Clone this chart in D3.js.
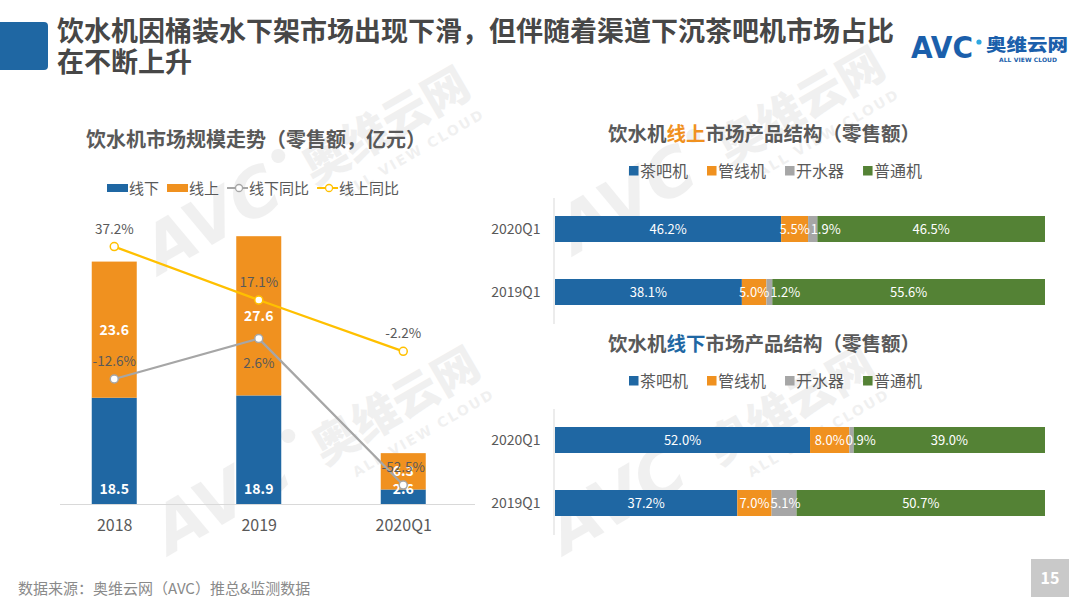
<!DOCTYPE html>
<html><head><meta charset="utf-8">
<script src="https://cdn.jsdelivr.net/npm/d3@7"></script>
<style>
html,body{margin:0;padding:0;background:#fff;}
svg{display:block;font-family:"Noto Sans CJK SC","Microsoft YaHei",sans-serif;}
</style></head><body>
<svg id="c" width="1080" height="608"></svg>
<script>
// ---------- data ----------
const years = ["2018", "2019", "2020Q1"];
const offlineSales = [18.5, 18.9, 2.6];
const onlineSales = [23.6, 27.6, 6.3];
const offlineYoY = [-12.6, 2.6, -52.5];
const onlineYoY = [37.2, 17.1, -2.2];
const salesLegend = ["线下", "线上", "线下同比", "线上同比"];

const productTypes = ["茶吧机", "管线机", "开水器", "普通机"];
const periods = ["2020Q1", "2019Q1"];
const onlineShare2020Q1 = [46.2, 5.5, 1.9, 46.5];
const onlineShare2019Q1 = [38.1, 5.0, 1.2, 55.6];
const offlineShare2020Q1 = [52.0, 8.0, 0.9, 39.0];
const offlineShare2019Q1 = [37.2, 7.0, 5.1, 50.7];

// ---------- styles ----------
const C = {blue: "#1f67a3", orange: "#f0911f", gray: "#a6a6a6", green: "#548235",
           yellow: "#ffc000", text: "#595959", title: "#474747", axis: "#d9d9d9"};
const typeColors = [C.blue, C.orange, C.gray, C.green];
const pct = v => v.toFixed(1) + "%";

const svg = d3.select("#c");

// ---------- watermarks ----------
function watermark(x, y) {
  const g = svg.append("g").attr("transform", `translate(${x},${y}) rotate(-30)`)
    .attr("fill", "#000").attr("opacity", 0.055);
  g.append("text").text("AVC").attr("font-size", 66).attr("font-weight", 900)
    .attr("font-style", "italic").attr("font-family", "DejaVu Sans");
  g.append("circle").attr("cx", 162).attr("cy", -44).attr("r", 7);
  g.append("text").text("奥维云网").attr("x", 178).attr("font-size", 46).attr("font-weight", 900);
  g.append("text").text("ALL VIEW CLOUD").attr("x", 200).attr("y", 26).attr("font-size", 14)
    .attr("font-weight", 700).attr("letter-spacing", 2).attr("font-family", "DejaVu Sans");
}
watermark(160, 275);
watermark(170, 555);
watermark(575, 255);
watermark(565, 555);

// ---------- header ----------
svg.append("rect").attr("x", -8).attr("y", 22).attr("width", 56).attr("height", 48)
  .attr("rx", 4).attr("fill", "#1f67a3");
svg.append("text").attr("x", 57).attr("y", 41).attr("font-size", 27).attr("font-weight", 700)
  .attr("fill", C.title).text("饮水机因桶装水下架市场出现下滑，但伴随着渠道下沉茶吧机市场占比");
svg.append("text").attr("x", 57).attr("y", 72).attr("font-size", 27).attr("font-weight", 700)
  .attr("fill", C.title).text("在不断上升");

// logo
const logo = svg.append("g");
logo.append("text").attr("x", 911).attr("y", 58).attr("font-size", 30).attr("font-weight", 900)
  .attr("font-family", "DejaVu Sans").attr("fill", "#1b5fab").attr("textLength", 62)
  .attr("lengthAdjust", "spacingAndGlyphs").text("AVC");
logo.append("circle").attr("cx", 979).attr("cy", 42).attr("r", 2.6).attr("fill", "#2ea7e0");
logo.append("text").attr("x", 986).attr("y", 51).attr("font-size", 17).attr("font-weight", 900)
  .attr("fill", "#1b5fab").attr("textLength", 82).attr("lengthAdjust", "spacingAndGlyphs").text("奥维云网");
logo.append("text").attr("x", 999).attr("y", 62).attr("font-size", 6).attr("font-weight", 700)
  .attr("font-family", "DejaVu Sans").attr("fill", "#1b5fab").attr("textLength", 58).text("ALL VIEW CLOUD");

// footer
svg.append("text").attr("x", 18).attr("y", 594).attr("font-size", 15).attr("fill", "#8a8a8a")
  .text("数据来源：奥维云网（AVC）推总&监测数据");
svg.append("rect").attr("x", 1031).attr("y", 559).attr("width", 38).attr("height", 38).attr("fill", "#c9c9c9");
svg.append("text").attr("x", 1050).attr("y", 584).attr("text-anchor", "middle").attr("font-size", 16)
  .attr("font-weight", 700).attr("fill", "#fff").text("15");

// ---------- left chart ----------
svg.append("text").attr("x", 256).attr("y", 147).attr("text-anchor", "middle").attr("font-size", 20)
  .attr("font-weight", 700).attr("fill", C.text).text("饮水机市场规模走势（零售额，亿元）");

// legend
const lg = svg.append("g").attr("font-size", 15).attr("fill", C.text);
let lx = 107; const ly = 188;
[[C.blue, "rect"], [C.orange, "rect"], [C.gray, "line"], [C.yellow, "line"]].forEach((it, i) => {
  if (it[1] === "rect") {
    lg.append("rect").attr("x", lx).attr("y", ly - 4).attr("width", 21).attr("height", 8).attr("fill", it[0]);
  } else {
    lg.append("line").attr("x1", lx).attr("x2", lx + 21).attr("y1", ly).attr("y2", ly)
      .attr("stroke", it[0]).attr("stroke-width", 2);
    lg.append("circle").attr("cx", lx + 12).attr("cy", ly).attr("r", 3.5).attr("fill", "#fff")
      .attr("stroke", it[0]).attr("stroke-width", 1.3);
  }
  const t = lg.append("text").attr("x", lx + 22).attr("y", ly + 5.5).text(salesLegend[i]);
  lx += 22 + t.node().getComputedTextLength() + 8;
});

const xL = d3.scalePoint().domain(years).range([42, 475.5]).padding(0.5);
const yL = d3.scaleLinear().domain([0, 50]).range([504.5, 216]);
const yPct = d3.scaleLinear().domain([-60, 60]).range([505, 186]);
const barW = 45;

const salesRows = years.map((y, i) => ({year: y, offline: offlineSales[i], online: onlineSales[i]}));
const stacked = d3.stack().keys(["offline", "online"])(salesRows);
const stackColors = {offline: C.blue, online: C.orange};

stacked.forEach(layer => {
  svg.append("g").selectAll("rect").data(layer).join("rect")
    .attr("x", d => xL(d.data.year) - barW / 2)
    .attr("y", d => yL(d[1]))
    .attr("width", barW)
    .attr("height", d => yL(d[0]) - yL(d[1]))
    .attr("fill", stackColors[layer.key]);
});

// axis
const xAxisG = svg.append("g").attr("transform", "translate(0,504.5)")
  .call(d3.axisBottom(xL).tickSize(0).tickPadding(15));
xAxisG.select(".domain").attr("stroke", C.axis).attr("d", "M60,0H475");
xAxisG.selectAll("text").attr("font-size", 16).attr("fill", C.text)
  .attr("font-family", "'Noto Sans CJK SC',sans-serif");

// bar labels
const valLabels = svg.append("g").attr("font-size", 14).attr("font-weight", 700).attr("fill", "#fff")
  .attr("text-anchor", "middle");
stacked[0].forEach(d => {
  valLabels.append("text").attr("x", xL(d.data.year)).attr("y", yL(d[0]) - 11).text(d.data.offline);
});
stacked[1].forEach(d => {
  valLabels.append("text").attr("x", xL(d.data.year)).attr("y", (yL(d[0]) + yL(d[1])) / 2 + 5)
    .text(d.data.online);
});

// lines
function drawLine(vals, color, isOffline) {
  const pts = years.map((y, i) => [xL(y), yPct(vals[i]), vals[i], i]);
  svg.append("path").datum(pts).attr("fill", "none").attr("stroke", color).attr("stroke-width", 2.25)
    .attr("d", d3.line().x(p => p[0]).y(p => p[1]));
  svg.append("g").selectAll("circle").data(pts).join("circle")
    .attr("cx", p => p[0]).attr("cy", p => p[1]).attr("r", 4)
    .attr("fill", "#fff").attr("stroke", color).attr("stroke-width", 1.5);
  svg.append("g").attr("font-size", 13.5).attr("fill", C.text).attr("text-anchor", "middle")
    .selectAll("text").data(pts).join("text")
    .attr("x", p => p[0])
    .attr("y", p => {
      let yy = p[1] - 13;
      if (isOffline) {
        const onlineMid = (yL(offlineSales[p[3]]) + yL(offlineSales[p[3]] + onlineSales[p[3]])) / 2;
        const offTop = yL(offlineSales[p[3]]);
        if (Math.abs((yy - 5) - onlineMid) < 20 && p[1] + 38 < offTop) yy = p[1] + 29.5;
      }
      return yy;
    })
    .text(p => pct(p[2]));
}
drawLine(offlineYoY, C.gray, true);
drawLine(onlineYoY, C.yellow, false);

// ---------- right charts ----------
function shareChart(opts) {
  const g = svg.append("g");
  const t = g.append("text").attr("x", 764).attr("y", opts.titleY).attr("text-anchor", "middle")
    .attr("font-size", 19.5).attr("font-weight", 700).attr("fill", C.text);
  t.append("tspan").text("饮水机");
  t.append("tspan").attr("fill", opts.hlColor).text(opts.hl);
  t.append("tspan").text("市场产品结构（零售额）");

  // legend
  let x = 629;
  productTypes.forEach((p, i) => {
    g.append("rect").attr("x", x).attr("y", opts.legendY - 5).attr("width", 9.5).attr("height", 9.5)
      .attr("fill", typeColors[i]);
    const tt = g.append("text").attr("x", x + 11).attr("y", opts.legendY + 5.5).attr("font-size", 16)
      .attr("fill", C.text).text(p);
    x += 11 + tt.node().getComputedTextLength() + 19;
  });

  const yB = d3.scalePoint().domain(periods).range(opts.range).padding(0.5);
  const xS = d3.scaleLinear().domain([0, 100]).range([555, 1045]);
  const barH = 26;

  const rows = periods.map((p, i) => {
    const vals = opts.rows[i];
    const sum = d3.sum(vals);
    const r = {period: p};
    productTypes.forEach((k, j) => { r[k] = vals[j] / sum * 100; r["raw_" + k] = vals[j]; });
    return r;
  });
  const st = d3.stack().keys(productTypes)(rows);
  st.forEach((layer, j) => {
    g.append("g").selectAll("rect").data(layer).join("rect")
      .attr("x", d => xS(d[0])).attr("y", d => yB(d.data.period) - barH / 2)
      .attr("width", d => xS(d[1]) - xS(d[0])).attr("height", barH)
      .attr("fill", typeColors[j]);
  });

  // axis
  const ax = g.append("g").attr("transform", "translate(553.5,0)")
    .call(d3.axisLeft(yB).tickSize(0).tickPadding(13));
  ax.select(".domain").attr("stroke", C.axis);
  ax.selectAll("text").attr("font-size", 14).attr("fill", C.text)
    .attr("font-family", "'Noto Sans CJK SC',sans-serif");

  // labels with simple overlap push
  rows.forEach((r, ri) => {
    let prevRight = -Infinity;
    st.forEach((layer, j) => {
      const d = layer[ri];
      const cx = (xS(d[0]) + xS(d[1])) / 2;
      const txt = g.append("text").attr("font-size", 13).attr("fill", "#fff")
        .attr("y", yB(r.period) + 4.5).text(pct(r["raw_" + productTypes[j]]));
      const w = txt.node().getComputedTextLength();
      let left = cx - w / 2;
      if (left < prevRight + 1) left = prevRight + 1;
      txt.attr("x", left);
      prevRight = left + w;
    });
  });
}

shareChart({titleY: 141, legendY: 171, hl: "线上", hlColor: C.orange,
            range: [197.5, 323.5], rows: [onlineShare2020Q1, onlineShare2019Q1]});
shareChart({titleY: 351, legendY: 381, hl: "线下", hlColor: C.blue,
            range: [408.5, 534.5], rows: [offlineShare2020Q1, offlineShare2019Q1]});
</script>
</body></html>
